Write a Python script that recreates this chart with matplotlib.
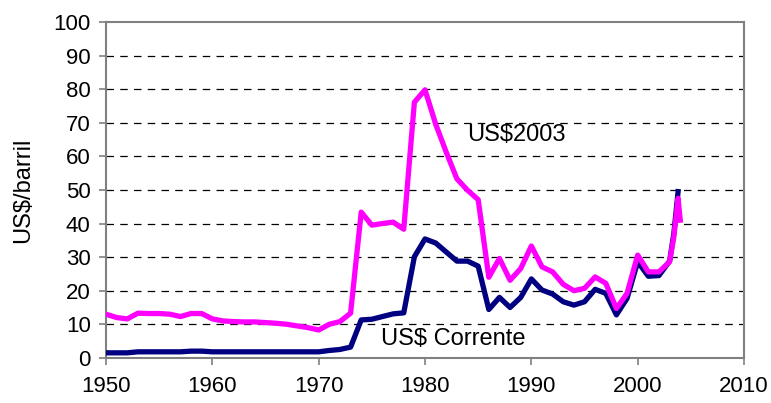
import matplotlib.pyplot as plt

plt.rcParams['font.family'] = ['Liberation Sans', 'DejaVu Sans']

years = list(range(1950, 2004))

real_2003 = [13.0, 12.0, 11.6, 13.3, 13.2, 13.2, 13.0, 12.3, 13.2, 13.2,
             11.6, 11.0, 10.8, 10.7, 10.7, 10.5, 10.3, 10.0, 9.5, 9.0,
             8.3, 10.0, 10.8, 13.3, 43.4, 39.5, 40.0, 40.4, 38.3, 76.1,
             79.8, 69.6, 61.2, 53.3, 49.9, 47.1, 24.0, 29.6, 23.1, 26.6,
             33.3, 27.1, 25.6, 21.9, 20.0, 20.7, 24.1, 22.2, 14.7, 19.2,
             30.6, 25.6, 25.6, 28.6]

nominal = [1.5, 1.5, 1.5, 1.8, 1.8, 1.8, 1.8, 1.8, 2.0, 2.0,
           1.8, 1.8, 1.8, 1.8, 1.8, 1.8, 1.8, 1.8, 1.8, 1.8,
           1.8, 2.2, 2.5, 3.2, 11.3, 11.5, 12.3, 13.1, 13.4, 30.1,
           35.4, 34.2, 31.5, 28.8, 28.8, 27.3, 14.4, 18.0, 15.0, 18.0,
           23.5, 20.2, 19.0, 16.7, 15.7, 16.7, 20.4, 19.2, 12.8, 17.7,
           28.6, 24.3, 24.5, 28.8]

# 2004 partial points at the end of the series
real_tail_x = [2003.4, 2003.8, 2004.0]
real_tail_y = [36.0, 47.5, 41.0]
nominal_tail_x = [2003.4, 2003.8]
nominal_tail_y = [37.0, 49.5]

fig = plt.figure(figsize=(7.71, 4.03), dpi=100)
ax = fig.add_axes([0.1375, 0.112, 0.8275, 0.8335])

ax.plot(years + nominal_tail_x, nominal + nominal_tail_y, color='#000080', lw=3.8,
        solid_joinstyle='round', zorder=3)
ax.plot(years + real_tail_x, real_2003 + real_tail_y, color='#FF00FF', lw=3.8,
        solid_joinstyle='round', zorder=4)

ax.set_xlim(1950, 2010)
ax.set_ylim(0, 100)
ax.set_xticks(range(1950, 2011, 10))
ax.set_yticks(range(0, 101, 10))
for y in range(10, 100, 10):
    ax.axhline(y, color='black', lw=0.9, ls=(0, (6, 5)), zorder=1)

for s in ax.spines.values():
    s.set_color('#808080')
    s.set_linewidth(1.5)
ax.tick_params(colors='black', labelsize=16, length=5, width=1.2, direction='out')
ax.tick_params(axis='x', pad=8)
ax.tick_params(axis='y', pad=6)
ax.tick_params(axis='both', color='#808080')

ax.set_ylabel('US$/barril', fontsize=17, labelpad=14)
ax.text(1984.0, 66.2, 'US$2003', fontsize=17, va='center')
ax.text(1975.9, 5.6, 'US$ Corrente', fontsize=17, va='center')

fig.savefig('out.png', dpi=100)
